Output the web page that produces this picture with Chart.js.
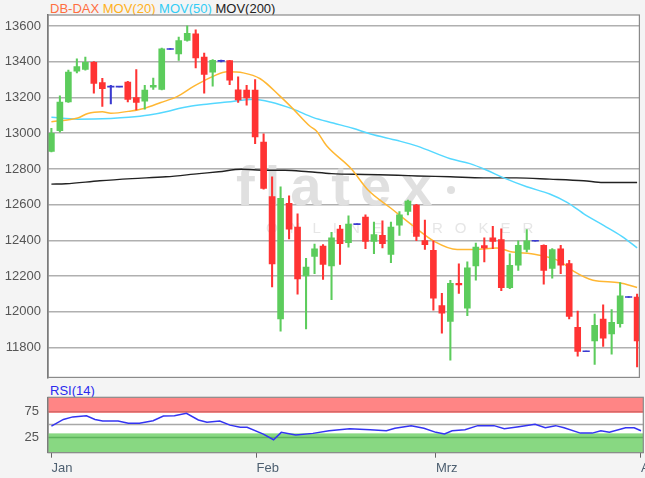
<!DOCTYPE html>
<html>
<head>
<meta charset="utf-8">
<script src="https://cdn.jsdelivr.net/npm/chart.js@4.4.0/dist/chart.umd.min.js"></script>
<style>
  body { margin: 0; width: 645px; height: 478px; overflow: hidden; position: relative;
         background: #f4f4f4; font-family: "Liberation Sans", Arial, sans-serif; }
  #kurs { position: absolute; left: 0; top: 0; }
  #rsi  { position: absolute; left: 0; top: 383px; }
  .legende { position: absolute; left: 50px; top: 1px; font-size: 13px; white-space: nowrap; }
  .rsiTitel { position: absolute; left: 50px; top: 383px; font-size: 13px; color: #2a2aee; }
</style>
</head>
<body>
<div class="legende">
  <span style="color:#ff6e40">DB-DAX</span>
  <span style="color:#ffb020">MOV(20)</span>
  <span style="color:#33ccf5">MOV(50)</span>
  <span style="color:#222">MOV(200)</span>
</div>
<canvas id="kurs" width="645" height="383"></canvas>
<div class="rsiTitel">RSI(14)</div>
<canvas id="rsi" width="645" height="95"></canvas>

<script>
// Handelstage (Index 0 = 2. Jan)
const tage = Array.from({ length: 70 }, (_, i) => i);
const eroeffnung = [12898,13014,13175,13347,13357,13397,13283,13261,13261,13287,13200,13179,13258,13246,13472,13444,13519,13556,13427,13342,
  13405,13407,13243,13242,13242,12950,12645,11960,12608,12475,12201,12310,12368,12257,12464,12388,12491,12530,12395,12429,
  12321,12486,12562,12598,12399,12345,12035,11946,12160,12021,12257,12371,12414,12404,12136,12262,12349,12398,12373,12243,
  12353,12270,11914,11779,11837,11960,11877,11934,12083,12083];
const hoch = [13028,13209,13353,13416,13427,13401,13308,13268,13263,13290,13357,13268,13309,13477,13474,13538,13601,13579,13449,13412,
  13410,13408,13316,13268,13301,12996,12756,12700,12650,12549,12299,12380,12377,12445,12484,12538,12493,12543,12502,12510,
  12502,12562,12626,12602,12514,12398,12103,12177,12269,12280,12385,12414,12479,12465,12325,12398,12460,12400,12375,12354,
  12373,12288,12004,11781,11987,12040,12013,12164,12085,12099];
const tief = [12895,13006,13172,13338,13353,13224,13150,13164,13259,13175,13131,13135,13245,13242,13470,13408,13516,13366,13224,13264,
  13400,13272,13172,13157,12941,12687,12140,11892,12408,12099,11905,12214,12182,12068,12265,12362,12489,12354,12326,12358,
  12275,12428,12543,12399,12349,12010,11881,11729,12103,11979,12177,12280,12354,12118,12130,12232,12336,12396,12155,12188,
  12214,11960,11752,11777,11705,11807,11763,11914,12081,11692];
const schluss = [13000,13175,13342,13373,13397,13279,13250,13261,13261,13190,13173,13242,13268,13472,13472,13519,13560,13422,13329,13408,
  13405,13297,13186,13198,12979,12691,12269,12635,12463,12184,12251,12353,12266,12414,12382,12491,12491,12395,12432,12382,
  12475,12543,12620,12423,12376,12077,11992,12160,12151,12247,12362,12358,12395,12136,12260,12373,12398,12398,12232,12349,
  12262,11975,11779,11779,11924,11853,11942,12090,12083,11837];

// gleitende Durchschnitte (Position = Tagesindex)
const mov20Pos = [0,3.1,4.3,6.0,7.0,9.4,10.9,12.9,14.8,16.8,17.9,19.1,20.7,22.6,24.6,26.9,28.5,30.4,31.2,32.4,35.3,37.3,40.0,42.7,45.1,47.8,49.8,52.5,54.0,57.2,59.9,61.5,63.8,66.9,69.0];
const mov20Wert = [13064,13085,13111,13120,13112,13125,13139,13172,13205,13264,13292,13320,13344,13338,13305,13209,13135,13042,13014,12931,12802,12682,12580,12478,12395,12349,12349,12358,12338,12320,12283,12228,12177,12163,12136];
const mov50Pos = [0,3.1,7.0,9.1,11.5,13.9,15.0,16.2,17.9,20.7,23.8,25.8,28.5,30.8,33.2,35.5,37.6,40.8,43.1,47.0,49.3,51.3,53.3,56.0,58.7,60.8,62.9,65.1,67.2,69.0];
const mov50Wert = [13089,13079,13083,13089,13102,13125,13139,13150,13161,13175,13190,13175,13135,13089,13057,13028,12996,12959,12928,12857,12830,12793,12750,12700,12660,12612,12543,12483,12423,12358];
const mov200Pos = [0,1.7,5.7,9.5,13.5,17.4,19.7,22.4,25.2,27.5,30.3,33.0,36.9,40.8,43.1,47.0,50.9,54.8,58.7,62.7,65.0,69.0];
const mov200Wert = [12715,12717,12734,12746,12756,12774,12784,12798,12793,12793,12784,12774,12769,12765,12761,12756,12750,12750,12743,12734,12724,12724];

// RSI(14)
const rsiPos = [0,1.4,2.5,4.1,5.1,6.0,7.8,9.0,10.3,11.9,13.1,14.4,15.8,17.2,18.2,19.7,20.9,22.1,22.9,24.8,26.0,26.9,28.6,30.6,32.5,34.9,37.3,39.2,40.2,42.1,43.6,45.0,46.0,46.9,48.4,49.9,51.8,53.0,54.7,56.6,57.8,59.0,60.0,61.9,63.3,64.3,65.3,67.2,68.2,69.0];
const rsiWert = [47,60,65,67,60,57,57,52.5,52.5,57.5,66.5,67,72,59,54.5,57,49,45,45,31.5,20.6,35,30,33,38,42,40,38,43,48,43,35,32,38,40,48,48,42,46,50.7,44,48,44,33.5,33.5,38,35,44,44,38];

const kursTicks = [11800, 12000, 12200, 12400, 12600, 12800, 13000, 13200, 13400, 13600];
const rsiTicks = [25, 75];
const monatsStart = [0, 24, 45, 69];
const monatsNamen = ['Jan', 'Feb', 'Mrz', 'Apr'];

const schrift = { family: '"Liberation Sans", Arial, sans-serif', size: 13 };
const xMin = -0.4, xMax = 69.27;

const punkte = (xs, ys) => xs.map((x, i) => ({ x: x, y: ys[i] }));
const farbe = i => schluss[i] > eroeffnung[i] ? '#5ccc5c' : (schluss[i] < eroeffnung[i] ? '#ff3333' : '#3a3ad0');

// Hintergrund + Rahmen fuer die Zeichenflaeche
const rahmen = {
  id: 'rahmen',
  beforeDraw(chart) {
    const a = chart.chartArea, ctx = chart.ctx;
    ctx.save();
    ctx.fillStyle = '#ffffff';
    ctx.fillRect(a.left, a.top, a.right - a.left, a.bottom - a.top);
    ctx.restore();
  },
  afterDraw(chart) {
    const a = chart.chartArea, ctx = chart.ctx;
    ctx.save();
    ctx.strokeStyle = '#8a8a8a';
    ctx.lineWidth = 1.2;
    ctx.strokeRect(a.left, a.top, a.right - a.left, a.bottom - a.top);
    ctx.restore();
  }
};

// Wasserzeichen
const wasserzeichen = {
  id: 'wasserzeichen',
  beforeDatasetsDraw(chart) {
    const ctx = chart.ctx;
    ctx.save();
    ctx.fillStyle = '#e0e0e0';
    ctx.textBaseline = 'alphabetic';
    ctx.font = 'bold 56px "Liberation Sans", Arial, sans-serif';
    ctx.letterSpacing = '10px';
    ctx.fillText('flatex', 236, 205);
    ctx.beginPath();
    ctx.arc(451, 190, 4, 0, Math.PI * 2);
    ctx.fill();
    ctx.font = '15px "Liberation Sans", Arial, sans-serif';
    ctx.letterSpacing = '12px';
    ctx.fillStyle = '#e6e6e6';
    ctx.fillText('ONLINE BROKER', 266, 233);
    ctx.restore();
  }
};

new Chart(document.getElementById('kurs'), {
  type: 'bar',
  data: {
    datasets: [
      { type: 'line', label: 'Doji', data: tage.filter(i => eroeffnung[i] === schluss[i]).map(i => ({ x: i, y: schluss[i] })),
        showLine: false, pointStyle: 'line', pointRadius: 3.6, borderColor: '#3a3ad0', borderWidth: 1.6, order: 0 },
      { label: 'Körper', data: tage.map(i => ({ x: i, y: eroeffnung[i] === schluss[i] ? null : [eroeffnung[i], schluss[i]] })),
        backgroundColor: tage.map(farbe), barThickness: 6, minBarLength: 1, grouped: false, order: 1 },
      { label: 'Docht', data: tage.map(i => ({ x: i, y: [tief[i], hoch[i]] })),
        backgroundColor: tage.map(farbe), barThickness: 1.4, grouped: false, order: 2 },
      { type: 'line', label: 'MOV(20)', data: punkte(mov20Pos, mov20Wert), borderColor: '#ffb733', borderWidth: 1.5,
        pointRadius: 0, cubicInterpolationMode: 'monotone', order: 5 },
      { type: 'line', label: 'MOV(50)', data: punkte(mov50Pos, mov50Wert), borderColor: '#55d8ff', borderWidth: 1.5,
        pointRadius: 0, cubicInterpolationMode: 'monotone', order: 6 },
      { type: 'line', label: 'MOV(200)', data: punkte(mov200Pos, mov200Wert), borderColor: '#222222', borderWidth: 1.4,
        pointRadius: 0, cubicInterpolationMode: 'monotone', order: 7 }
    ]
  },
  options: {
    responsive: false,
    animation: false,
    layout: { padding: { top: 15, right: 1.7, bottom: 2.3, left: 0 } },
    plugins: { legend: { display: false }, tooltip: { enabled: false } },
    scales: {
      x: { type: 'linear', min: xMin, max: xMax, offset: false, display: false },
      y: {
        min: 11633, max: 13662,
        afterBuildTicks: s => { s.ticks = kursTicks.map(v => ({ value: v })); },
        afterFit: s => { s.width = 48; s.paddingTop = 0; s.paddingBottom = 0; },
        ticks: { color: '#555555', font: schrift, padding: 7, callback: v => String(v) },
        grid: { color: '#b0b0b0', lineWidth: 1.6, drawTicks: false },
        border: { color: '#666666', width: 1.5 }
      }
    }
  },
  plugins: [rahmen, wasserzeichen]
});

// RSI-Zonen
const rsiZoneOben = [73, 103];
const rsiZoneUnten = [-4.5, 33];
const rsiLinien = [75, 50, 25];
const rsiLinienFarben = ['#d86868', '#a8a8a8', '#5db45d'];

const zonen = {
  id: 'zonen',
  beforeDatasetsDraw(chart) {
    const a = chart.chartArea, ctx = chart.ctx, y = chart.scales.y;
    ctx.save();
    ctx.fillStyle = '#ff8585';
    let t = y.getPixelForValue(rsiZoneOben[1]), b = y.getPixelForValue(rsiZoneOben[0]);
    ctx.fillRect(a.left, t, a.right - a.left, b - t);
    ctx.fillStyle = '#88d882';
    t = y.getPixelForValue(rsiZoneUnten[1]); b = y.getPixelForValue(rsiZoneUnten[0]);
    ctx.fillRect(a.left, t, a.right - a.left, b - t);
    rsiLinien.forEach((v, i) => {
      const py = y.getPixelForValue(v);
      ctx.strokeStyle = rsiLinienFarben[i];
      ctx.lineWidth = 1.5;
      ctx.beginPath();
      ctx.moveTo(a.left, py);
      ctx.lineTo(a.right, py);
      ctx.stroke();
    });
    ctx.restore();
  }
};

new Chart(document.getElementById('rsi'), {
  type: 'line',
  data: {
    datasets: [
      { label: 'RSI(14)', data: punkte(rsiPos, rsiWert), borderColor: '#3434f2', borderWidth: 1.5, pointRadius: 0, tension: 0 }
    ]
  },
  options: {
    responsive: false,
    animation: false,
    layout: { padding: { top: 14.3, right: 1.7, bottom: 0, left: 0 } },
    plugins: { legend: { display: false }, tooltip: { enabled: false } },
    scales: {
      x: {
        type: 'linear', min: xMin, max: xMax,
        afterBuildTicks: s => { s.ticks = monatsStart.map(v => ({ value: v })); },
        afterFit: s => { s.height = 25.3; s.paddingLeft = 0; s.paddingRight = 0; },
        ticks: { color: '#4d5f70', font: schrift, padding: 3, align: 'start', maxRotation: 0,
                 callback: v => monatsNamen[monatsStart.indexOf(v)] },
        grid: { drawOnChartArea: false, tickLength: 5, color: '#666666' },
        border: { color: '#8a8a8a' }
      },
      y: {
        min: -4.5, max: 103,
        afterBuildTicks: s => { s.ticks = rsiTicks.map(v => ({ value: v })); },
        afterFit: s => { s.width = 48; s.paddingTop = 0; s.paddingBottom = 0; },
        ticks: { color: '#555555', font: schrift, padding: 9 },
        grid: { display: false, drawTicks: false },
        border: { color: '#666666', width: 1.5 }
      }
    }
  },
  plugins: [rahmen, zonen]
});
</script>
</body>
</html>
